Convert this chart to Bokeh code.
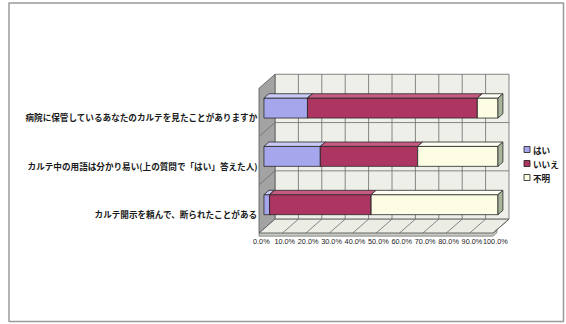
from bokeh.plotting import figure
from bokeh.models import Range1d
from bokeh.core.properties import value
from bokeh.embed import file_html
from bokeh.resources import INLINE

# ---------------- data (categories listed bottom -> top) ----------------
categories = [
    "カルテ開示を頼んで、断られたことがある",
    "カルテ中の用語は分かり易い(上の質問で「はい」答えた人)",
    "病院に保管しているあなたのカルテを見たことがありますか",
]
series = ["はい", "いいえ", "不明"]
hai = [2.4, 24.1, 18.6]
iie = [43.4, 41.6, 72.6]
fumei = [54.2, 34.3, 8.8]
tick_values = [0, 10, 20, 30, 40, 50, 60, 70, 80, 90, 100]
tick_labels = ["0.0%", "10.0%", "20.0%", "30.0%", "40.0%", "50.0%",
               "60.0%", "70.0%", "80.0%", "90.0%", "100.0%"]

# ---------------- styling / geometry ----------------
W, H = 566, 324
PXX, PXY = 2.34, 48.3          # pixels per % and per category unit
X0 = 258.5                     # px of 0 %
Y0 = 208.5                     # px (from top) of first category centre
DX, DY = 16 / PXX, 14 / PXY    # full depth vector in data units
F0, F1 = 0.31, 0.62            # bar depth (front / back) as fraction of depth
HH = 10 / PXY                  # half bar height
front_col = ["#a6a6ec", "#ad3561", "#fdfde4"]
top_col = ["#c9c9f6", "#c65a82", "#fefef2"]
side_col = ["#7878c0", "#7a2040", "#a9b59a"]


def px(xp):
    return (xp - X0) / PXX


def py(yp):
    return (Y0 - yp) / PXY


p = figure(width=W, height=H, output_backend="svg", toolbar_location=None,
           x_range=Range1d(px(0), px(W)), y_range=Range1d(py(H), py(0)),
           min_border=0)
p.axis.visible = False
p.grid.visible = False
p.background_fill_color = "white"
p.border_fill_color = "white"
p.outline_line_color = None

# outer frame of the chart area
p.patch([px(8.5), px(563), px(563), px(8.5)], [py(2.5), py(2.5), py(321), py(321)],
        fill_color=None, line_color="#9a9a9a", line_width=1.5)

n = len(categories)
ylo, yhi = -0.5, n - 0.5
xmax = tick_values[-1]

# back wall
p.patch([DX, xmax + DX, xmax + DX, DX], [ylo + DY, ylo + DY, yhi + DY, yhi + DY],
        fill_color="#eeefe9", line_color="#666666", line_width=0.8)
# left wall
p.patch([0, DX, DX, 0], [ylo, ylo + DY, yhi + DY, yhi],
        fill_color="#a3a3a3", line_color="#555555", line_width=0.8)
# floor
p.patch([0, xmax, xmax + DX, DX], [ylo, ylo, ylo + DY, ylo + DY],
        fill_color="#eceee6", line_color="#555555", line_width=0.8)
# floor front thickness
t = 3 / PXY
p.patch([0, xmax, xmax + DX * 0.25, xmax + DX * 0.25, xmax, 0],
        [ylo, ylo, ylo + DY * 0.25, ylo + DY * 0.25 - t, ylo - t, ylo - t],
        fill_color="#c8cbc2", line_color="#555555", line_width=0.6)

# gridlines: vertical on back wall, diagonal on floor
for v in tick_values[1:-1]:
    p.line([v + DX, v + DX], [ylo + DY, yhi + DY], line_color="#6a6a6a", line_width=0.8)
for v in tick_values[1:]:
    p.line([v, v + DX], [ylo, ylo + DY], line_color="#6a6a6a", line_width=0.8)
# category boundaries on back and side wall
for k in range(1, n):
    b = k - 0.5
    p.line([0, DX, xmax + DX], [b, b + DY, b + DY], line_color="#6a6a6a", line_width=0.8)

# bars
data = [hai, iie, fumei]
fx, fy = F0 * DX, F0 * DY
bx, by = (F1 - F0) * DX, (F1 - F0) * DY
for i in range(n):
    start = 0.0
    for s in range(len(series)):
        end = start + data[s][i]
        x0, x1 = start + fx, end + fx
        y0, y1 = i - HH + fy, i + HH + fy
        p.patch([x0, x1, x1, x0], [y0, y0, y1, y1], fill_color=front_col[s],
                line_color="#2a2a2a", line_width=0.8)
        p.patch([x0, x1, x1 + bx, x0 + bx], [y1, y1, y1 + by, y1 + by],
                fill_color=top_col[s], line_color="#2a2a2a", line_width=0.8)
        p.patch([x1, x1 + bx, x1 + bx, x1], [y0, y0 + by, y1 + by, y1],
                fill_color=side_col[s], line_color="#2a2a2a", line_width=0.8)
        start = end

# category labels
p.text(x=[px(257)] * n, y=[i - 0.1 for i in range(n)], text=categories,
       text_align="right", text_baseline="middle",
       text_font=value("Noto Sans CJK JP"), text_font_size="8.6px",
       text_font_style="bold", text_color="#1a1a1a")

# x tick labels
p.text(x=[v + 1.0 for v in tick_values], y=[ylo - 8.5 / PXY] * len(tick_values),
       text=tick_labels, text_align="center", text_baseline="middle",
       text_font=value("Liberation Sans"), text_font_size="7.3px",
       text_color="#1a1a1a")

# legend
pitch = 14 / PXY
ly = [py(149) - k * pitch for k in range(len(series))]
p.scatter(x=[px(526.5)] * len(series), y=ly, marker="square", size=6,
          fill_color=front_col, line_color="#1a1a1a", line_width=0.8)
p.text(x=[px(532.5)] * len(series), y=ly, text=series, text_align="left",
       text_baseline="middle", text_font=value("Noto Sans CJK JP"),
       text_font_size="8.6px", text_font_style="bold", text_color="#1a1a1a")

open("out.html", "w").write(file_html(p, INLINE))
